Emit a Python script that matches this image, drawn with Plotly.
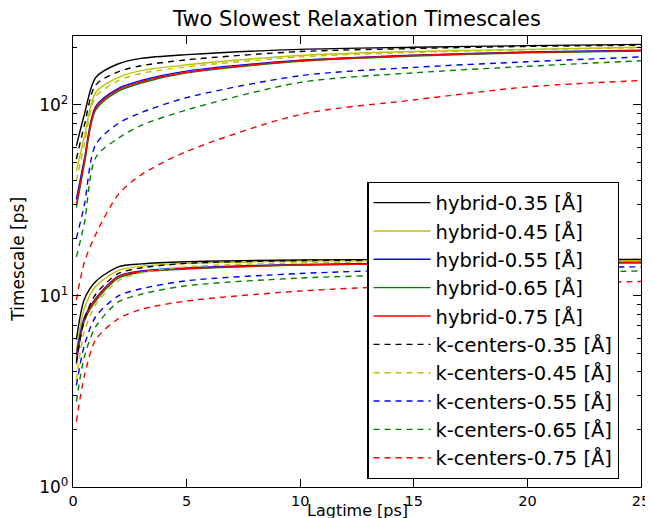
import plotly.graph_objects as go

lagtime = [0.15, 0.5, 1, 2, 3, 5, 10, 15, 20, 25]

labels = ["hybrid-0.35 [Å]", "hybrid-0.45 [Å]", "hybrid-0.55 [Å]", "hybrid-0.65 [Å]", "hybrid-0.75 [Å]",
          "k-centers-0.35 [Å]", "k-centers-0.45 [Å]", "k-centers-0.55 [Å]", "k-centers-0.65 [Å]", "k-centers-0.75 [Å]"]

# slowest timescale (upper curves)
slow1_hybrid_035 = [61, 89, 139, 164, 175, 183, 195, 200, 204, 207]
slow1_hybrid_045 = [45, 68, 116, 139, 151, 162, 181, 190, 195, 200]
slow1_hybrid_055 = [32, 52, 98, 122, 134, 150, 171, 182, 189, 193]
slow1_hybrid_065 = [29, 49, 94, 118, 130, 147, 169, 180, 187, 191]
slow1_hybrid_075 = [30, 50, 96, 120, 132, 148, 170, 181, 188, 192]
slow1_kcent_035 = [52, 78, 127, 149, 160, 172, 190, 197, 202, 205]
slow1_kcent_045 = [40, 62, 110, 134, 146, 158, 178, 188, 194, 199]
slow1_kcent_055 = [20, 30, 62, 80, 91, 109, 142, 157, 168, 178]
slow1_kcent_065 = [16, 24, 53, 67, 78, 94, 131, 147, 159, 170]
slow1_kcent_075 = [9.5, 15, 21, 34, 43, 57, 89, 106, 124, 134]

# second slowest timescale (lower curves)
slow2_hybrid_035 = [5.9, 9.6, 11.9, 14.2, 14.7, 15.1, 15.4, 15.5, 15.5, 15.5]
slow2_hybrid_045 = [5.2, 8.6, 11.2, 13.6, 14.3, 14.8, 15.2, 15.3, 15.3, 15.3]
slow2_hybrid_055 = [4.9, 7.7, 9.7, 12.7, 13.5, 14.0, 14.6, 14.8, 15.0, 15.0]
slow2_hybrid_065 = [4.6, 7.4, 9.4, 12.4, 13.3, 13.8, 14.5, 14.7, 14.9, 14.9]
slow2_hybrid_075 = [4.4, 7.5, 9.6, 12.6, 13.4, 13.9, 14.5, 14.7, 14.8, 14.9]
slow2_kcent_035 = [4.5, 7.5, 10.2, 13.1, 14.0, 14.8, 15.3, 15.4, 15.4, 15.5]
slow2_kcent_045 = [3.6, 6.5, 9.0, 12.0, 13.2, 14.2, 14.9, 15.1, 15.2, 15.3]
slow2_kcent_055 = [3.4, 5.5, 7.8, 10.0, 10.9, 12.0, 13.1, 13.7, 14.0, 14.2]
slow2_kcent_065 = [2.8, 4.8, 6.9, 9.3, 10.2, 11.3, 12.4, 12.9, 13.2, 13.5]
slow2_kcent_075 = [2.2, 3.8, 5.9, 7.6, 8.5, 9.4, 10.6, 11.3, 11.6, 11.9]

slow1 = [slow1_hybrid_035, slow1_hybrid_045, slow1_hybrid_055, slow1_hybrid_065, slow1_hybrid_075,
         slow1_kcent_035, slow1_kcent_045, slow1_kcent_055, slow1_kcent_065, slow1_kcent_075]
slow2 = [slow2_hybrid_035, slow2_hybrid_045, slow2_hybrid_055, slow2_hybrid_065, slow2_hybrid_075,
         slow2_kcent_035, slow2_kcent_045, slow2_kcent_055, slow2_kcent_065, slow2_kcent_075]

x_ticks = [0, 5, 10, 15, 20, 25]
y_ticks = [1, 10, 100]
y_ticktext = ["10<sup>0</sup>", "10<sup>1</sup>", "10<sup>2</sup>"]
y_minor = [2, 3, 4, 5, 6, 7, 8, 9, 20, 30, 40, 50, 60, 70, 80, 90, 200]

colors = ["#000000", "#bfbf00", "#0000ff", "#008000", "#ff0000"] * 2
dashes = ["solid"] * 5 + ["6px,5px"] * 5

FONT = "DejaVu Sans"
fig = go.Figure()
for i, lab in enumerate(labels):
    xs = lagtime + [None] + lagtime
    ys = slow1[i] + [None] + slow2[i]
    fig.add_trace(go.Scatter(
        x=xs, y=ys, mode="lines", name=lab, legendgroup=lab,
        line=dict(color=colors[i], width=1.4, dash=dashes[i], shape="spline", smoothing=0.8),
        connectgaps=False,
    ))

axis_common = dict(showgrid=False, zeroline=False, showline=True, linecolor="black", linewidth=1.3,
                   mirror="allticks", ticks="inside", ticklen=8, tickcolor="black", automargin=False)

# page body adds an 8px offset; figure sized to compensate
fig.update_layout(
    width=645, height=510,
    margin=dict(l=65, r=12, t=28, b=31),
    paper_bgcolor="white", plot_bgcolor="white",
    title=dict(text="Two Slowest Relaxation Timescales", x=0.5, xref="paper", xanchor="center",
               y=0.98, yref="container", yanchor="middle",
               font=dict(family=FONT, size=21, color="black")),
    showlegend=True,
    legend=dict(x=0.518, y=0.676, xanchor="left", yanchor="top", bgcolor="white",
                bordercolor="black", borderwidth=1.3, traceorder="grouped", tracegroupgap=0,
                font=dict(family=FONT, size=19.5, color="black"), itemwidth=57),
    annotations=[
        dict(text="Lagtime [ps]", xref="paper", yref="paper", x=0.5, y=-0.052,
             xanchor="center", yanchor="middle", showarrow=False,
             font=dict(family=FONT, size=16, color="black")),
        dict(text="Timescale [ps]", xref="paper", yref="paper", x=-0.097, y=0.506,
             xanchor="center", yanchor="middle", showarrow=False, textangle=-90,
             font=dict(family=FONT, size=17, color="black")),
    ],
)
fig.update_xaxes(range=[0, 25], tickvals=x_ticks,
                 tickfont=dict(family=FONT, size=14.5, color="black"), **axis_common)
fig.update_yaxes(type="log", range=[0, 2.36], tickvals=y_ticks, ticktext=y_ticktext,
                 tickfont=dict(family=FONT, size=17, color="black"),
                 minor=dict(ticks="inside", ticklen=4, tickcolor="black", showgrid=False, tickvals=y_minor),
                 **axis_common)

fig.write_html("out.html")
